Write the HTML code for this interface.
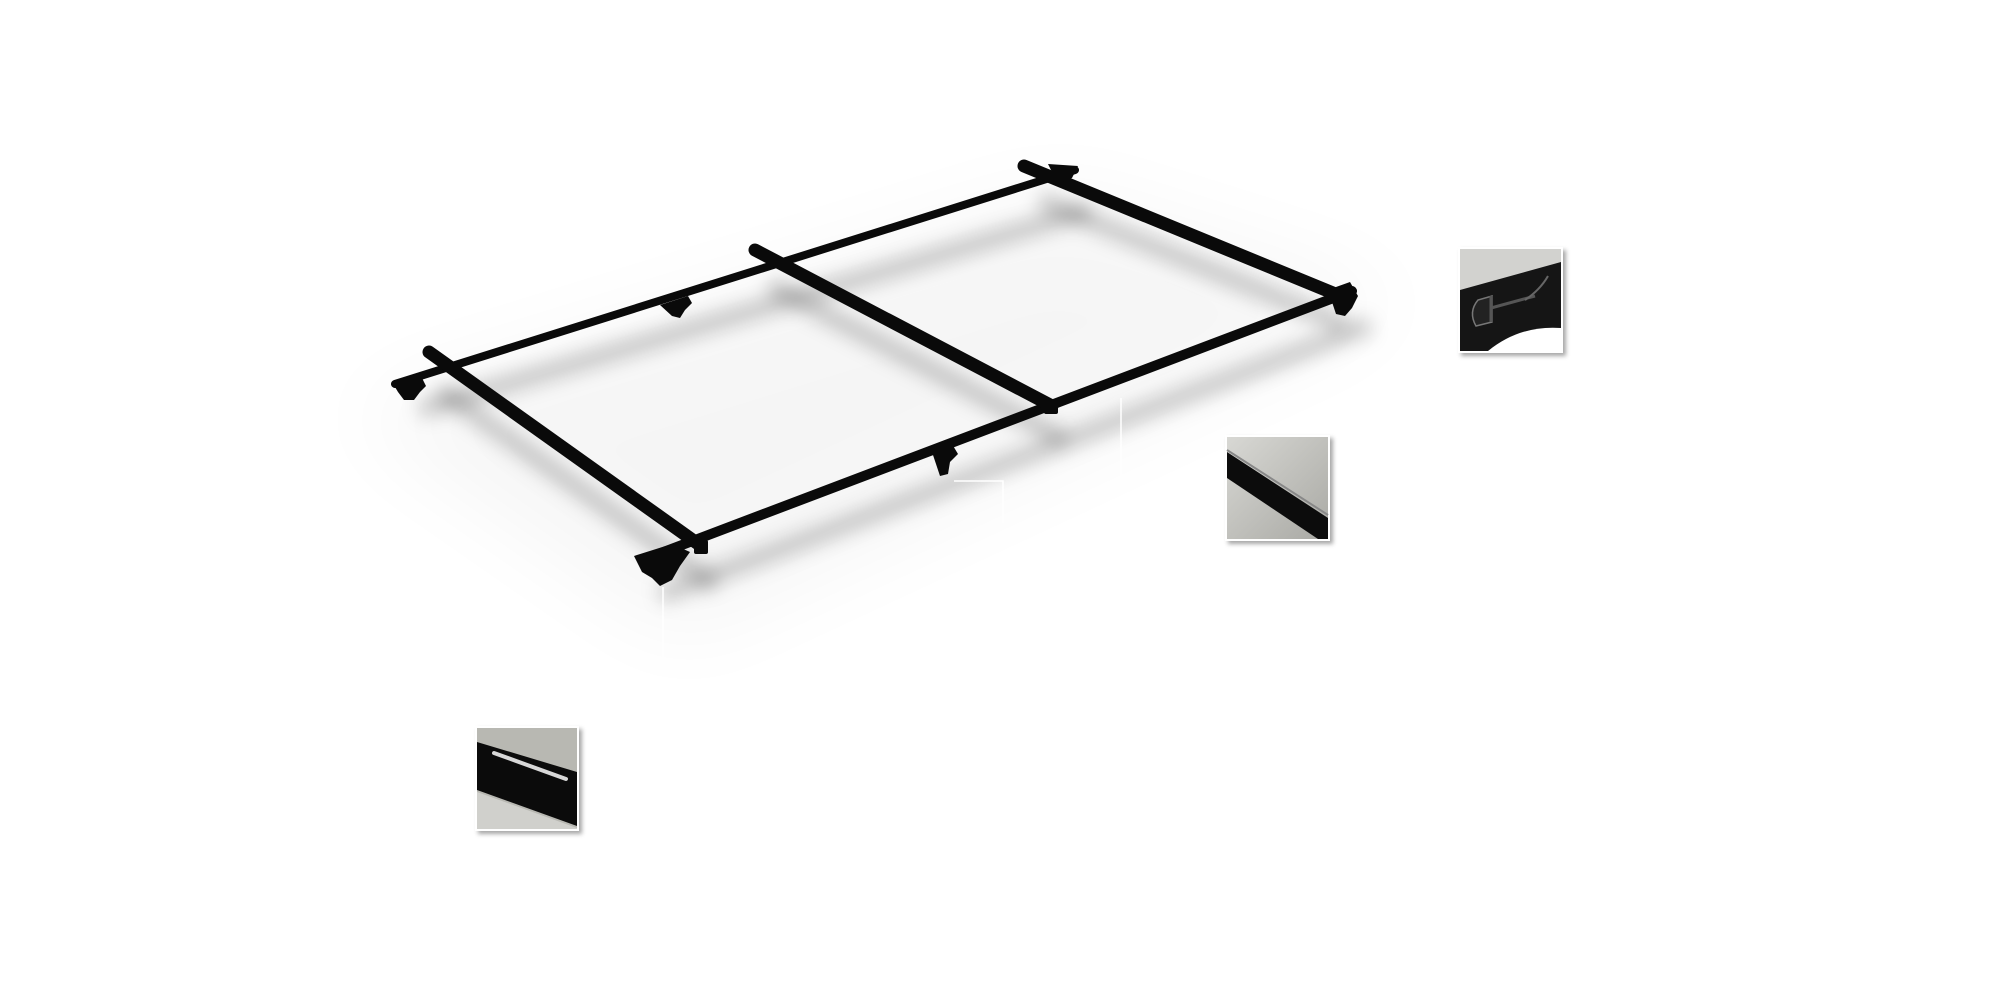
<!DOCTYPE html>
<html><head><meta charset="utf-8"><style>
html,body{margin:0;padding:0;background:#fff;width:2000px;height:992px;overflow:hidden}
svg{display:block}
</style></head><body>
<svg width="2000" height="992" viewBox="0 0 2000 992" xmlns="http://www.w3.org/2000/svg">
<defs>
<filter id="blur" x="-30%" y="-30%" width="160%" height="160%"><feGaussianBlur stdDeviation="45"/></filter>
<filter id="blur2" x="-30%" y="-30%" width="160%" height="160%"><feGaussianBlur stdDeviation="9"/></filter>
<filter id="ds" x="-10%" y="-10%" width="130%" height="130%"><feDropShadow dx="3" dy="3" stdDeviation="2" flood-color="#000" flood-opacity="0.35"/></filter>
<linearGradient id="g1" x1="0" y1="0" x2="1" y2="1"><stop offset="0" stop-color="#d8d8d4"/><stop offset="1" stop-color="#a9a9a4"/></linearGradient>
</defs>
<!-- soft ground shadow -->
<polygon points="350,410 1060,190 1410,300 680,640" fill="#000" opacity="0.035" filter="url(#blur)"/>
<g fill="none" stroke="#000" stroke-opacity="0.2" stroke-width="18" filter="url(#blur2)">
<line x1="420" y1="410" x2="1090" y2="210"/>
<line x1="660" y1="595" x2="1370" y2="325"/>
<line x1="440" y1="390" x2="715" y2="585"/>
<line x1="770" y1="285" x2="1065" y2="440"/>
<line x1="1040" y1="200" x2="1345" y2="325"/>
</g>
<!-- callout lines -->
<g stroke="#fff" stroke-width="1.5" fill="none">
<line x1="663" y1="587" x2="663" y2="657"/>
<polyline points="954,481 1003,481 1003,523"/>
<line x1="1121" y1="398" x2="1121" y2="485"/>
</g>
<!-- rails -->
<g stroke="#0a0a0a" stroke-linecap="round" fill="none">
<line x1="395" y1="384" x2="1075" y2="170" stroke-width="8"/>
<line x1="645" y1="559" x2="1352" y2="291" stroke-width="10"/>
<line x1="429" y1="352" x2="701" y2="546" stroke-width="13"/>
<line x1="755" y1="250" x2="1052" y2="406" stroke-width="13"/>
<line x1="1024" y1="166" x2="1333" y2="293" stroke-width="13"/>
</g>
<!-- feet / brackets -->
<g fill="#0a0a0a">
<path d="M392,382 L420,374 L426,386 L420,392 L414,400 L404,400 L398,392 Z"/>
<path d="M634,556 L672,544 L690,552 L680,566 L672,580 L660,586 L652,578 L642,572 Z"/>
<path d="M1322,292 L1350,282 L1358,296 L1352,308 L1345,316 L1336,314 L1332,302 Z"/>
<path d="M1048,164 L1078,166 L1072,178 L1058,184 Z"/>
<path d="M932,452 L952,444 L958,454 L950,462 L948,474 L940,476 L936,464 Z"/>
<path d="M660,305 L688,296 L692,303 L685,310 L680,318 L672,316 Z"/>
<rect x="1044" y="400" width="14" height="14" rx="2"/>
<rect x="694" y="540" width="14" height="14" rx="2"/>
</g>
<!-- thumbnails -->
<g filter="url(#ds)">
<rect x="1458" y="247" width="105" height="106" fill="#fff"/>
<rect x="1225" y="435" width="105" height="106" fill="#fff"/>
<rect x="475" y="726" width="104" height="105" fill="#fff"/>
</g>
<!-- top-right thumb: profile -->
<rect x="1460" y="249" width="101" height="102" fill="#d2d2cf"/>
<path d="M1460,290 L1561,262 L1561,351 L1460,351 Z" fill="#151515"/>
<path d="M1478,300 Q1468,312 1476,326 L1492,322 L1492,296 Z" fill="#222" stroke="#777" stroke-width="1.5"/>
<line x1="1491" y1="296" x2="1491" y2="322" stroke="#555" stroke-width="3"/>
<line x1="1491" y1="308" x2="1535" y2="296" stroke="#555" stroke-width="3"/>
<path d="M1525,300 Q1540,290 1548,276" stroke="#666" stroke-width="2" fill="none"/>
<path d="M1488,351 Q1520,325 1561,328 L1561,351 Z" fill="#fff"/>
<!-- middle thumb: bar -->
<rect x="1227" y="437" width="101" height="102" fill="url(#g1)"/>
<polygon points="1227,452 1328,518 1328,539 1318,539 1227,478" fill="#0c0c0c"/>
<line x1="1227" y1="450" x2="1328" y2="515" stroke="#888" stroke-width="2"/>
<!-- bottom-left thumb: slot -->
<rect x="477" y="728" width="100" height="101" fill="#b8b8b2"/>
<polygon points="477,742 577,772 577,826 477,790" fill="#0b0b0b"/>
<polygon points="477,792 577,828 577,829 477,829" fill="#d0d0cc"/>
<line x1="494" y1="753" x2="566" y2="779" stroke="#d8d8d8" stroke-width="4" stroke-linecap="round"/>
</svg>
</body></html>
